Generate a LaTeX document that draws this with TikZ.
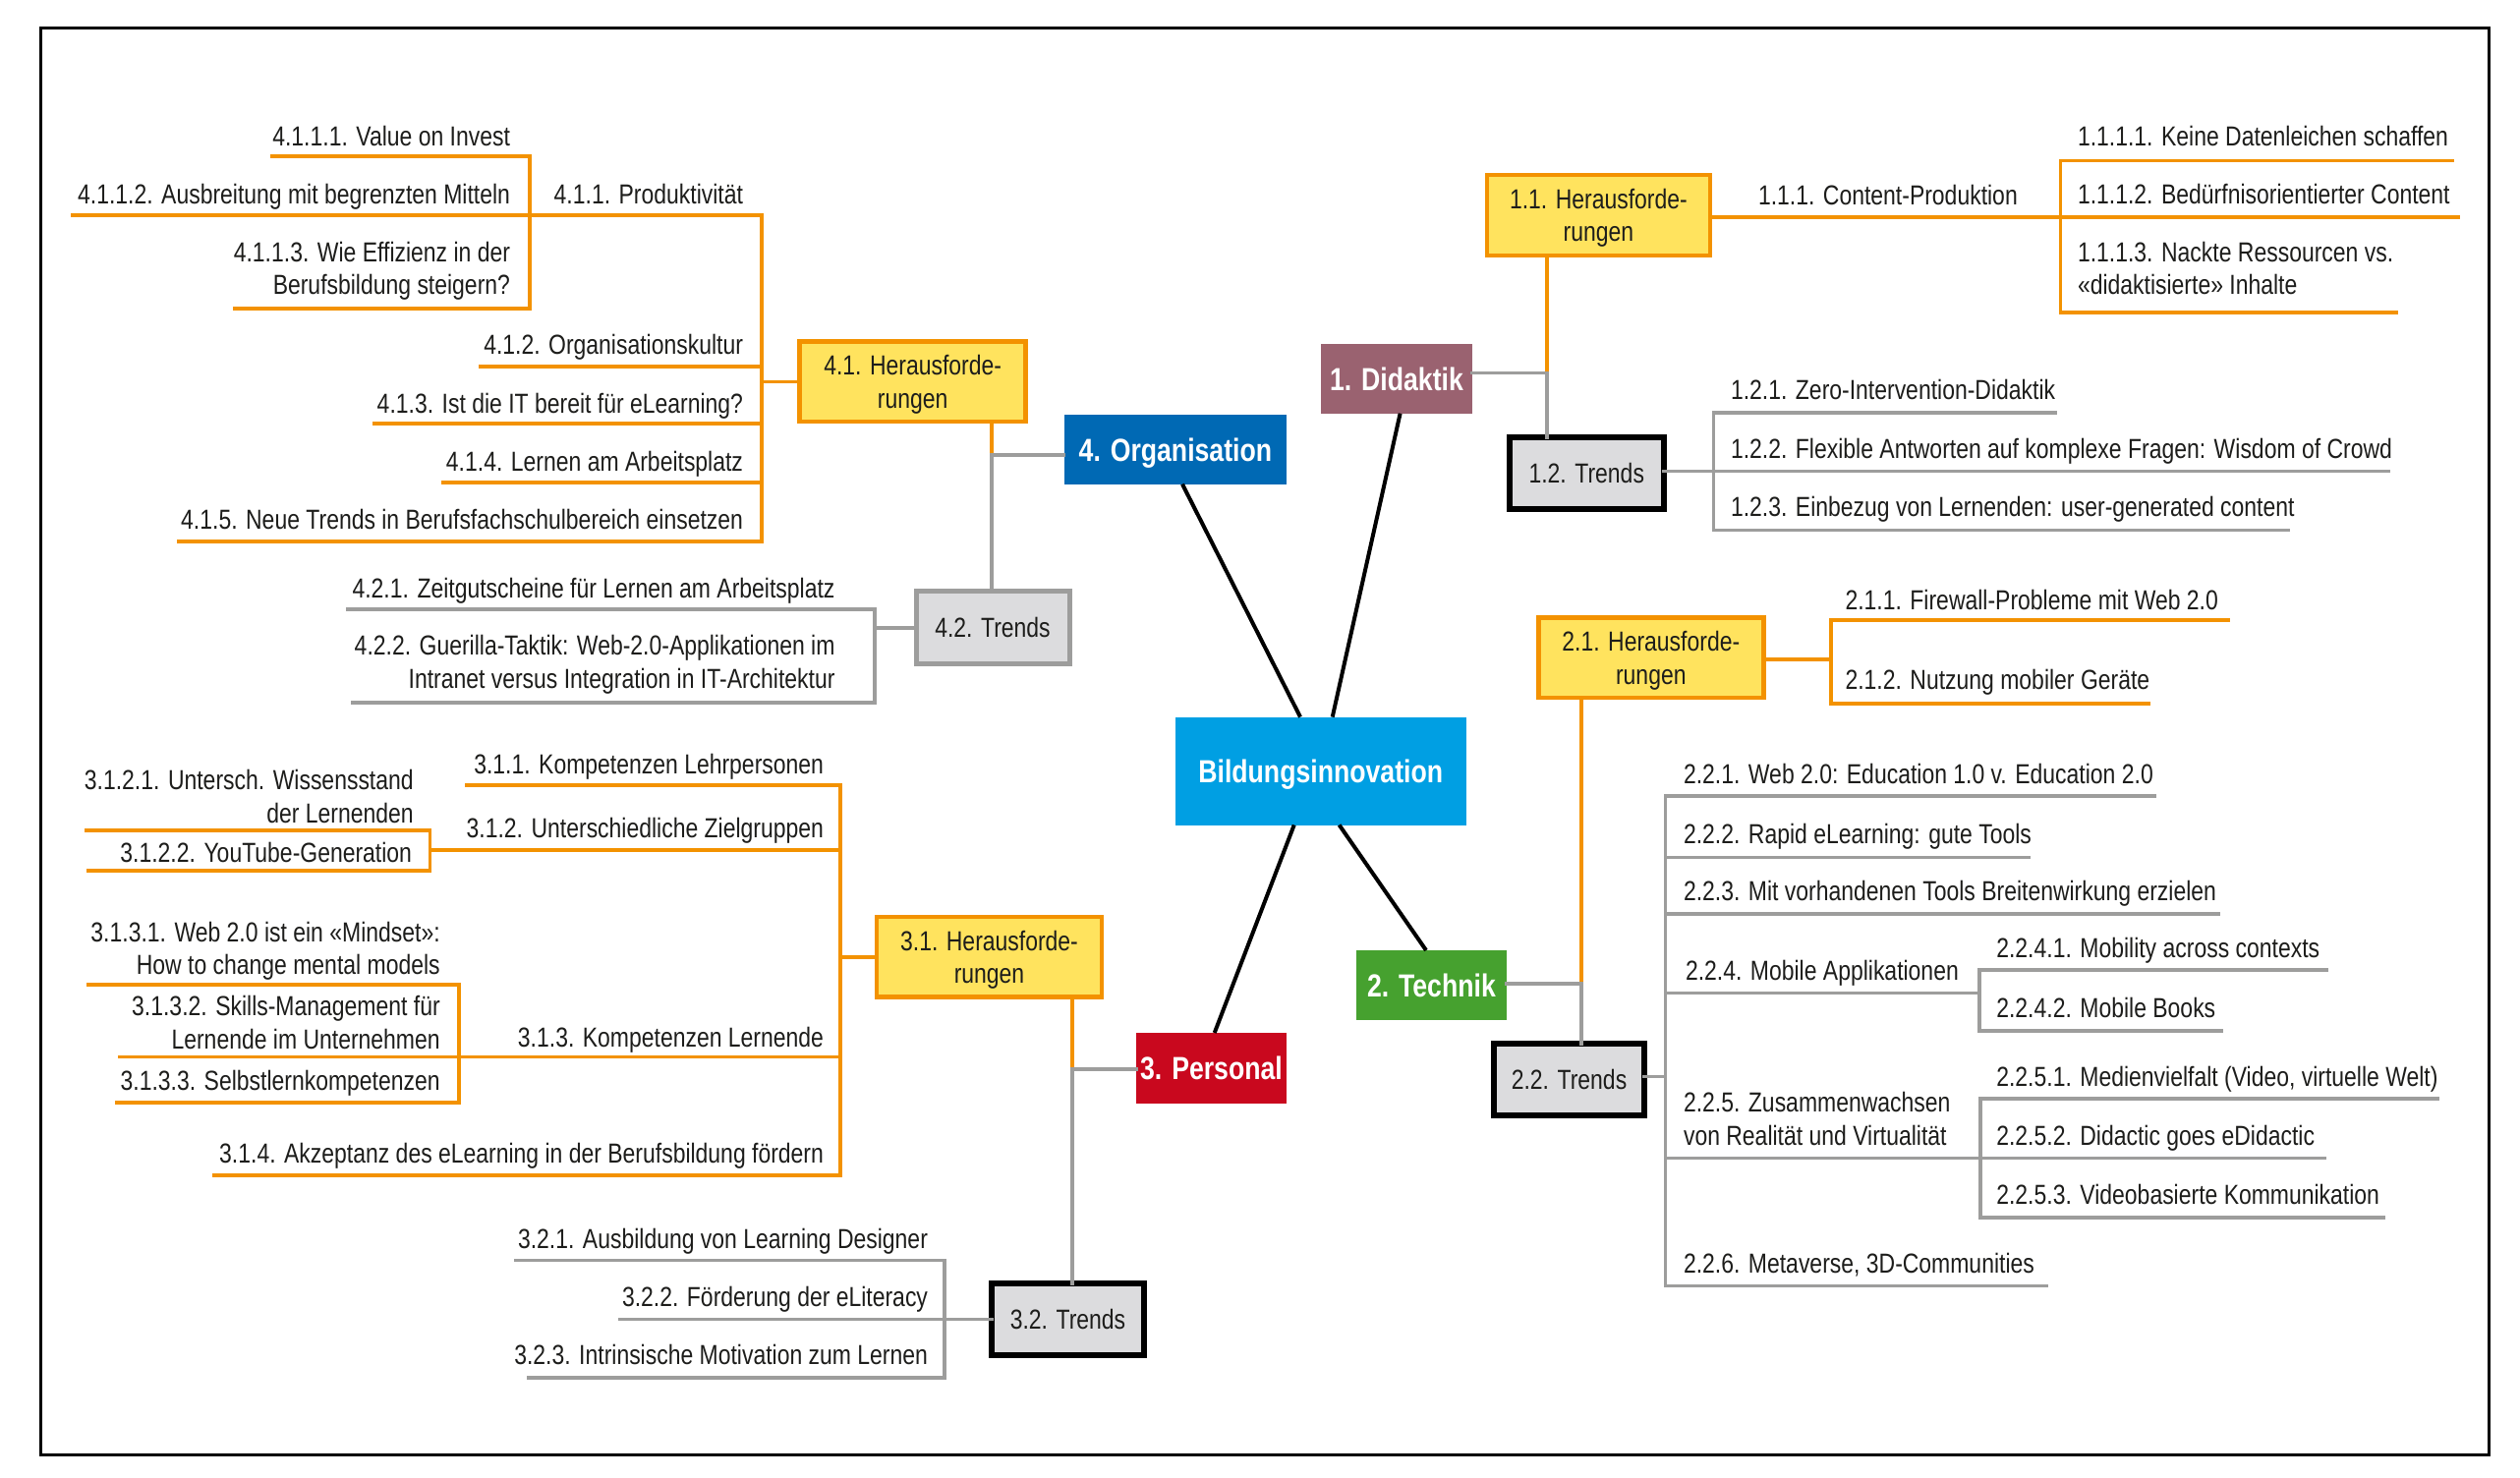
\documentclass[tikz,border=0pt]{standalone}
\usepackage{fontspec}
\setmainfont{Liberation Sans}[FakeStretch=0.82]
\definecolor{cOrg}{HTML}{F39200}
\definecolor{cYel}{HTML}{FFE35E}
\definecolor{cGry}{HTML}{9D9D9C}
\definecolor{cTrf}{HTML}{DCDCDE}
\definecolor{cDid}{HTML}{9A6270}
\definecolor{cOrgBox}{HTML}{0069B4}
\definecolor{cCen}{HTML}{009FE3}
\definecolor{cTec}{HTML}{46A12F}
\definecolor{cPer}{HTML}{C9081E}
\definecolor{cTxt}{HTML}{1D1D1B}
\newcommand\lff{\fontsize{28}{33.3}\selectfont}
\newcommand\bxf{\fontsize{28}{33.5}\selectfont}
\newcommand\mnf{\fontsize{32.5}{38}\selectfont\bfseries}
\newcommand\segh[5]{\coordinate (#2a) at (#3,#5); \coordinate (#2b) at (#4,#5); \draw[#1] (#2a) -- (#2b);}
\newcommand\segv[5]{\coordinate (#2a) at (#3,#4); \coordinate (#2b) at (#3,#5); \draw[#1] (#2a) -- (#2b);}
\newcommand\leafR[4]{\node[leaf,anchor=base east,align=right] (#1) at (#2,#3) {#4};}
\newcommand\leafL[4]{\node[leaf,anchor=base west,align=left] (#1) at (#2,#3) {#4};}
\begin{document}
\begin{tikzpicture}[x=1pt,y=-1pt,
  leaf/.style={inner sep=0pt, outer sep=0pt, text=cTxt, font=\lff},
  ol/.style={draw=cOrg, line width=3.6pt, line cap=rect},
  gl/.style={draw=cGry, line width=3.6pt, line cap=rect},
  bk/.style={draw=black, line width=4pt},
  boxb/.style={inner sep=0pt, outer sep=0pt, anchor=north west, align=center},
  yelbox/.style={boxb, fill=cYel, draw=cOrg, line width=4.5pt, text=cTxt, font=\bxf, text depth=0pt},
  trdbox/.style={boxb, fill=cTrf, draw=black, line width=6pt, text=cTxt, font=\bxf},
  mainbox/.style={boxb, text=white, font=\mnf, text depth=0pt}]
\useasboundingbox (0,0) rectangle (2564,1504);
\fill[white] (0,0) rectangle (2564,1504);
\draw[black, line width=3pt] (41,29) rectangle (2532,1480);

% ---------- main boxes ----------
\node[mainbox, fill=cCen, minimum width=296.2pt, minimum height=109.9pt] (cen) at (1195.6,729.6) {Bildungsinnovation};
\node[mainbox, fill=cDid, minimum width=154pt, minimum height=70.7pt] (did) at (1344,350) {1. Didaktik};
\node[mainbox, fill=cOrgBox, minimum width=226.8pt, minimum height=70.4pt] (orgb) at (1082.5,422.3) {4. Organisation};
\node[mainbox, fill=cTec, minimum width=153.2pt, minimum height=70.7pt] (tec) at (1379.8,967) {2. Technik};
\node[mainbox, fill=cPer, minimum width=153pt, minimum height=71.7pt] (per) at (1156,1051) {3. Personal};

\draw[bk] ([xshift=127.4pt]cen.north west) -- ([xshift=120.5pt]orgb.south west);
\draw[bk] ([xshift=160.1pt]cen.north west) -- ([xshift=80.6pt]did.south west);
\draw[bk] ([xshift=121.1pt]cen.south west) -- ([xshift=79.7pt]per.north west);
\draw[bk] ([xshift=167pt]cen.south west) -- ([xshift=71.2pt]tec.north west);

% ---------- 1. Didaktik ----------
\node[yelbox, minimum width=227.2pt, minimum height=82pt] (h11) at (1512.8,178) {1.1. Herausforde-\\rungen};
\node[trdbox, minimum width=156.5pt, minimum height=73.3pt] (t12) at (1536,445) {1.2. Trends};
\coordinate (j1) at (1574,379.3);
\draw[ol] (j1 |- h11.south) -- (j1);
\draw[gl] (j1 -| did.east) -- (j1);
\draw[gl] (j1) -- (j1 |- t12.north);

\segh{ol}{l1112}{1740}{2501}{220.7}
\segh{ol}{l1111}{2096.4}{2495}{163.3}
\segh{ol}{l1113}{2096.4}{2438}{317.7}
\segv{ol}{b111}{2096.4}{163.3}{317.7}
\leafL{n111}{1789}{208}{1.1.1. Content-Produktion}
\leafL{n1111}{2114}{148}{1.1.1.1. Keine Datenleichen schaffen}
\leafL{n1112}{2114}{207.3}{1.1.1.2. Bedürfnisorientierter Content}
\leafL{n1113}{2114}{299.3}{1.1.1.3. Nackte Ressourcen vs.\\«didaktisierte» Inhalte}

\coordinate (c12) at (1743.3,479.3);
\draw[gl] (c12 -| t12.east) -- (c12);
\segv{gl}{b12}{1743.3}{420}{539.3}
\segh{gl}{l121}{1743.3}{2091.5}{420}
\segh{gl}{l122}{1743.3}{2430}{479.3}
\segh{gl}{l123}{1743.3}{2327.7}{539.3}
\leafL{n121}{1761}{406.5}{1.2.1. Zero-Intervention-Didaktik}
\leafL{n122}{1761}{466}{1.2.2. Flexible Antworten auf komplexe Fragen: Wisdom of Crowd}
\leafL{n123}{1761}{525.5}{1.2.3. Einbezug von Lernenden: user-generated content}

% ---------- 2. Technik ----------
\node[yelbox, minimum width=229pt, minimum height=81.5pt] (h21) at (1565.3,628.5) {2.1. Herausforde-\\rungen};
\node[trdbox, minimum width=153pt, minimum height=73.4pt] (t22) at (1520,1062) {2.2. Trends};
\coordinate (j2) at (1609,1001);
\draw[ol] (j2 |- h21.south) -- (j2);
\draw[gl] (j2 -| tec.east) -- (j2);
\draw[gl] (j2) -- (j2 |- t22.north);

\coordinate (c21) at (1863,671);
\draw[ol] (c21 -| h21.east) -- (c21);
\segv{ol}{b21}{1863}{631}{715.7}
\segh{ol}{l211}{1863}{2267}{631}
\segh{ol}{l212}{1863}{2186}{715.7}
\leafL{n211}{1877.5}{620}{2.1.1. Firewall-Probleme mit Web 2.0}
\leafL{n212}{1877.5}{701.5}{2.1.2. Nutzung mobiler Geräte}

\coordinate (c22) at (1694.5,1095.3);
\draw[gl] (c22 -| t22.east) -- (c22);
\segv{gl}{b22}{1694.5}{810.2}{1308.5}
\segh{gl}{l221}{1694.5}{2192.5}{810.2}
\segh{gl}{l222}{1694.5}{2064}{872.3}
\segh{gl}{l223}{1694.5}{2257}{930}
\segh{gl}{l224}{1694.5}{2014}{1010.4}
\segv{gl}{b224}{2014}{987}{1048.7}
\segh{gl}{l2241}{2014}{2367}{987}
\segh{gl}{l2242}{2014}{2260}{1048.7}
\segh{gl}{l225}{1694.5}{2015}{1178.6}
\segv{gl}{b225}{2015}{1118}{1239}
\segh{gl}{l2251}{2015}{2480}{1118}
\segh{gl}{l2252}{2015}{2365.6}{1178.6}
\segh{gl}{l2253}{2015}{2425.5}{1239}
\segh{gl}{l226}{1694.5}{2082.6}{1308.5}
\leafL{n221}{1713}{797}{2.2.1. Web 2.0: Education 1.0 v. Education 2.0}
\leafL{n222}{1713}{858.5}{2.2.2. Rapid eLearning: gute Tools}
\leafL{n223}{1713}{916.5}{2.2.3. Mit vorhandenen Tools Breitenwirkung erzielen}
\leafL{n224}{1715}{997}{2.2.4. Mobile Applikationen}
\leafL{n2241}{2031.3}{974}{2.2.4.1. Mobility across contexts}
\leafL{n2242}{2031.3}{1035}{2.2.4.2. Mobile Books}
\leafL{n225}{1713}{1165}{2.2.5. Zusammenwachsen\\von Realität und Virtualität}
\leafL{n2251}{2031.3}{1105.5}{2.2.5.1. Medienvielfalt (Video, virtuelle Welt)}
\leafL{n2252}{2031.3}{1165}{2.2.5.2. Didactic goes eDidactic}
\leafL{n2253}{2031.3}{1225}{2.2.5.3. Videobasierte Kommunikation}
\leafL{n226}{1713}{1295}{2.2.6. Metaverse, 3D-Communities}

% ---------- 3. Personal ----------
\node[yelbox, minimum width=229pt, minimum height=81.6pt] (h31) at (892,933) {3.1. Herausforde-\\rungen};
\node[trdbox, minimum width=155.6pt, minimum height=73.6pt] (t32) at (1008.7,1305.7) {3.2. Trends};
\coordinate (j3) at (1091,1088);
\draw[ol] (j3 |- h31.south) -- (j3);
\draw[gl] (j3) -- (j3 -| per.west);
\draw[gl] (j3) -- (j3 |- t32.north);

\segv{ol}{b31}{855}{799}{1196}
\coordinate (c31) at (855,973.7);
\draw[ol] (c31) -- (c31 -| h31.west);
\segh{ol}{l311}{475}{855}{799}
\segh{ol}{l312}{437.4}{855}{865}
\segv{ol}{b312}{437.4}{845}{886}
\segh{ol}{l3121}{87.8}{437.4}{845}
\segh{ol}{l3122}{90}{437.4}{886}
\segh{ol}{l3131}{90}{466.7}{1002}
\segv{ol}{b313}{466.7}{1002}{1122}
\segh{ol}{l3132}{122}{855}{1075.6}
\segh{ol}{l3133}{118.8}{466.7}{1122}
\segh{ol}{l314}{218}{855}{1196}
\leafR{n311}{838}{787}{3.1.1. Kompetenzen Lehrpersonen}
\leafR{n312}{838}{852.5}{3.1.2. Unterschiedliche Zielgruppen}
\leafR{n3121}{420.7}{837}{3.1.2.1. Untersch. Wissensstand\\der Lernenden}
\leafR{n3122}{419}{877.8}{3.1.2.2. YouTube-Generation}
\leafR{n3131}{447.7}{991.4}{3.1.3.1. Web 2.0 ist ein «Mindset»:\\How to change mental models}
\leafR{n3132}{447.7}{1067}{3.1.3.2. Skills-Management für\\Lernende im Unternehmen}
\leafR{n313}{838}{1065}{3.1.3. Kompetenzen Lernende}
\leafR{n3133}{447.7}{1109}{3.1.3.3. Selbstlernkompetenzen}
\leafR{n314}{838}{1183}{3.1.4. Akzeptanz des eLearning in der Berufsbildung fördern}

\coordinate (c32) at (961,1342.3);
\draw[gl] (c32) -- (c32 -| t32.west);
\segv{gl}{b32}{961}{1282.3}{1401.7}
\segh{gl}{l321}{525}{961}{1282.3}
\segh{gl}{l322}{631}{961}{1342.3}
\segh{gl}{l323}{537.8}{961}{1401.7}
\leafR{n321}{944}{1270}{3.2.1. Ausbildung von Learning Designer}
\leafR{n322}{944}{1329}{3.2.2. Förderung der eLiteracy}
\leafR{n323}{944}{1388}{3.2.3. Intrinsische Motivation zum Lernen}

% ---------- 4. Organisation ----------
\node[yelbox, minimum width=229.9pt, minimum height=81.3pt] (h41) at (813.7,347.7) {4.1. Herausforde-\\rungen};
\node[trdbox, draw=cGry, line width=5pt, minimum width=156pt, minimum height=74pt] (t42) at (932,601) {4.2. Trends};
\coordinate (j4) at (1009,463);
\draw[ol] (j4 |- h41.south) -- (j4);
\draw[gl] (j4) -- (j4 -| orgb.west);
\draw[gl] (j4) -- (j4 |- t42.north);

\segv{ol}{b41}{775}{219}{551}
\coordinate (c41) at (775,388.4);
\draw[ol] (c41) -- (c41 -| h41.west);
\segh{ol}{l4111}{277}{539}{159}
\segv{ol}{b411}{539}{159}{313.7}
\segh{ol}{l4112}{73.7}{775}{219}
\segh{ol}{l4113}{238.5}{539}{313.7}
\segh{ol}{l412}{489}{775}{373}
\segh{ol}{l413}{381}{775}{431}
\segh{ol}{l414}{451}{775}{491}
\segh{ol}{l415}{182}{775}{551}
\leafR{n4111}{519}{148}{4.1.1.1. Value on Invest}
\leafR{n4112}{519}{207}{4.1.1.2. Ausbreitung mit begrenzten Mitteln}
\leafR{n411}{756}{207}{4.1.1. Produktivität}
\leafR{n4113}{519}{299.6}{4.1.1.3. Wie Effizienz in der\\Berufsbildung steigern?}
\leafR{n412}{756}{360.7}{4.1.2. Organisationskultur}
\leafR{n413}{756}{420}{4.1.3. Ist die IT bereit für eLearning?}
\leafR{n414}{756}{479}{4.1.4. Lernen am Arbeitsplatz}
\leafR{n415}{756}{538.3}{4.1.5. Neue Trends in Berufsfachschulbereich einsetzen}

\coordinate (c42) at (889.7,639);
\draw[gl] (c42) -- (c42 -| t42.west);
\segv{gl}{b42}{889.7}{620}{715}
\segh{gl}{l421}{354}{889.7}{620}
\segh{gl}{l422}{358.8}{889.7}{715}
\leafR{n421}{849.5}{608}{4.2.1. Zeitgutscheine für Lernen am Arbeitsplatz}
\leafR{n422}{849.5}{700}{4.2.2. Guerilla-Taktik: Web-2.0-Applikationen im\\Intranet versus Integration in IT-Architektur}
\end{tikzpicture}
\end{document}
